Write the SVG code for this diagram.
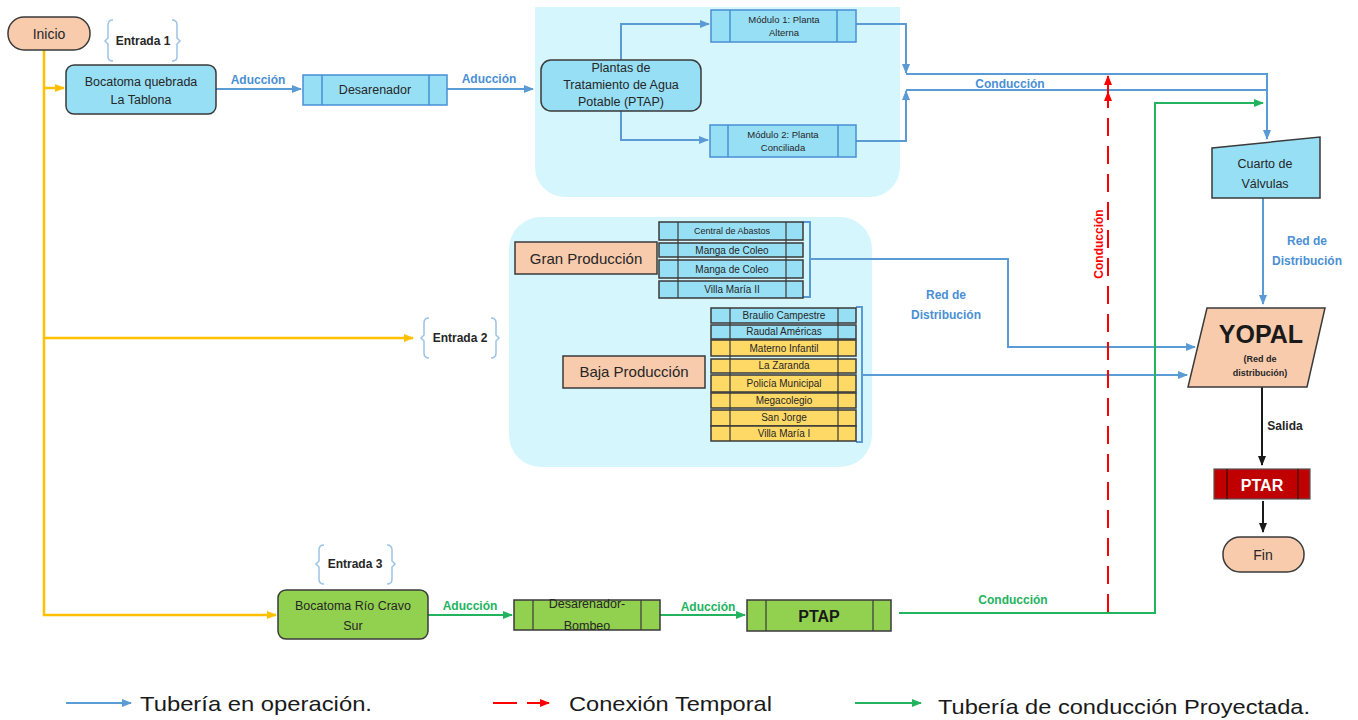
<svg xmlns="http://www.w3.org/2000/svg" width="1358" height="720" viewBox="0 0 1358 720">
<defs>
<style>
text{font-family:"Liberation Sans",Arial,sans-serif;fill:#262626}
.c{text-anchor:middle}
.b{font-weight:bold}
.lb{fill:#4a8fd4;font-weight:bold;font-size:12px}
.lg{fill:#22b35e;font-weight:bold;font-size:12px}
.blue{fill:none;stroke:#5b9bd5;stroke-width:2}
.yel{fill:none;stroke:#ffc000;stroke-width:2.5}
.grn{fill:none;stroke:#22b35e;stroke-width:2}
.red{fill:none;stroke:#ff0000;stroke-width:2;stroke-dasharray:18,10}
.blk{fill:none;stroke:#1a1a1a;stroke-width:2}
.brace{fill:none;stroke:#9dc3e6;stroke-width:1.5}
.lbx{fill:#97dff5;stroke:#4a8fd4;stroke-width:1.5}
.gbx{fill:#92d050;stroke:#3a3a3a;stroke-width:1.5}
.ybx{fill:#ffd966;stroke:#3a3a3a;stroke-width:1.5}
.bdk{fill:#97dff5;stroke:#3a3a3a;stroke-width:1.5}
.pch{fill:#f8cbad;stroke:#3a3a3a;stroke-width:1.5}
.panel{fill:#d6f6fd}
.leg{font-size:21px;fill:#1a1a1a}
</style>
<marker id="ab" markerWidth="10" markerHeight="10" refX="9" refY="5" orient="auto" markerUnits="userSpaceOnUse"><path d="M0,1 L10,5 L0,9 Z" fill="#5b9bd5"/></marker>
<marker id="ay" markerWidth="10" markerHeight="10" refX="9" refY="5" orient="auto" markerUnits="userSpaceOnUse"><path d="M0,1 L10,5 L0,9 Z" fill="#ffc000"/></marker>
<marker id="ag" markerWidth="10" markerHeight="10" refX="9" refY="5" orient="auto" markerUnits="userSpaceOnUse"><path d="M0,1 L10,5 L0,9 Z" fill="#22b35e"/></marker>
<marker id="ar" markerWidth="10" markerHeight="10" refX="9" refY="5" orient="auto" markerUnits="userSpaceOnUse"><path d="M0,1 L10,5 L0,9 Z" fill="#ff0000"/></marker>
<marker id="ak" markerWidth="10" markerHeight="10" refX="9" refY="5" orient="auto" markerUnits="userSpaceOnUse"><path d="M0,1 L10,5 L0,9 Z" fill="#1a1a1a"/></marker>
</defs>
<rect width="1358" height="720" fill="#ffffff"/>

<!-- panels -->
<path class="panel" d="M535,7 H900 V167 A30,30 0 0 1 870,197 H565 A30,30 0 0 1 535,167 Z"/>
<rect class="panel" x="509" y="217" width="363" height="250" rx="32"/>

<!-- connectors -->
<g id="connectors">
<path class="yel" d="M44,50 V615 H276" marker-end="url(#ay)"/>
<path class="yel" d="M44,88 H64" marker-end="url(#ay)"/>
<path class="yel" d="M44,338 H413" marker-end="url(#ay)"/>
<path class="blue" d="M216,89 H301" marker-end="url(#ab)"/>
<path class="blue" d="M447,89 H533" marker-end="url(#ab)"/>
<path class="blue" d="M621,60 V24 H709" marker-end="url(#ab)"/>
<path class="blue" d="M621,111 V140 H708" marker-end="url(#ab)"/>
<path class="blue" d="M856,24 H906 V73" marker-end="url(#ab)"/>
<path class="blue" d="M856,141 H906 V91" marker-end="url(#ab)"/>
<path class="blue" d="M906,74 H1267 V139" marker-end="url(#ab)"/>
<path class="blue" d="M906,90 H1267"/>
<path class="blue" d="M1263,198 V304" marker-end="url(#ab)"/>
<path class="blue" d="M803,222 H810 V297 H803 M810,259 H1008 V347 H1195" marker-end="url(#ab)"/>
<path class="blue" d="M856,307 H862 V442 H856 M862,375 H1187" marker-end="url(#ab)"/>
<path class="grn" d="M428,615 H512" marker-end="url(#ag)"/>
<path class="grn" d="M660,615 H745" marker-end="url(#ag)"/>
<path class="grn" d="M899,613 H1155 V103 H1263" marker-end="url(#ag)"/>
<path class="red" d="M1108,612 V92" marker-end="url(#ar)"/>
<path fill="none" stroke="#ff0000" stroke-width="2" d="M1108,92 V76" marker-end="url(#ar)"/>
<path class="blk" d="M1262,387 V465" marker-end="url(#ak)"/>
<path class="blk" d="M1263,501 V532" marker-end="url(#ak)"/>
<text class="lb" x="258" y="84" text-anchor="middle">Aducción</text>
<text class="lb" x="489" y="83" text-anchor="middle">Aducción</text>
<text class="lb" x="1010" y="88" text-anchor="middle">Conducción</text>
<text class="lb" x="1307" y="245" text-anchor="middle">Red de</text>
<text class="lb" x="1307" y="265" text-anchor="middle">Distribución</text>
<text class="lb" x="946" y="299" text-anchor="middle">Red de</text>
<text class="lb" x="946" y="319" text-anchor="middle">Distribución</text>
<text class="b" x="1103" y="244" text-anchor="middle" font-size="12" style="fill:#ff0000" transform="rotate(-90 1103 244)">Conducción</text>
<text class="lg" x="470" y="610" text-anchor="middle">Aducción</text>
<text class="lg" x="708" y="611" text-anchor="middle">Aducción</text>
<text class="lg" x="1013" y="604" text-anchor="middle">Conducción</text>
<text x="1285" y="430" text-anchor="middle" font-size="12" class="b">Salida</text>
</g>

<g id="inicio">
<rect class="pch" x="8" y="17" width="82" height="33" rx="16"/>
<text class="c" x="49" y="39" font-size="14">Inicio</text>
</g>
<g id="entrada1">
<path class="brace" d="M113,20 Q108,20 108,25 V38 L105,41 L108,44 V57 Q108,61 113,61 M172,20 Q177,20 177,25 V38 L180,41 L177,44 V57 Q177,61 172,61"/>
<text class="c b" x="143" y="45" font-size="12">Entrada 1</text>
</g>
<g id="bocatoma1">
<rect class="bdk" x="66" y="65" width="150" height="49" rx="8"/>
<text class="c" x="141" y="86" font-size="12.5">Bocatoma quebrada</text>
<text class="c" x="141" y="104" font-size="12.5">La Tablona</text>
</g>
<g id="desarenador">
<rect class="lbx" x="303" y="75" width="144" height="30"/>
<path stroke="#4a8fd4" stroke-width="1.5" d="M322,75 V105 M429,75 V105"/>
<text class="c" x="375" y="94" font-size="12.5">Desarenador</text>
</g>
<g id="ptap1">
<rect class="bdk" x="541" y="60" width="160" height="51" rx="10"/>
<text class="c" x="621" y="72" font-size="12.5">Plantas de</text>
<text class="c" x="621" y="89" font-size="12.5">Tratamiento de Agua</text>
<text class="c" x="621" y="106" font-size="12.5">Potable (PTAP)</text>
</g>
<g id="modulo1">
<rect class="lbx" x="711" y="10" width="145" height="32"/>
<path stroke="#4a8fd4" stroke-width="1.5" d="M730,10 V42 M837,10 V42"/>
<text class="c" x="784" y="23" font-size="9.5">Módulo 1: Planta</text>
<text class="c" x="784" y="36" font-size="9.5">Alterna</text>
</g>
<g id="modulo2">
<rect class="lbx" x="710" y="125" width="146" height="32"/>
<path stroke="#4a8fd4" stroke-width="1.5" d="M728,125 V157 M838,125 V157"/>
<text class="c" x="783" y="138" font-size="9.5">Módulo 2: Planta</text>
<text class="c" x="783" y="151" font-size="9.5">Conciliada</text>
</g>
<g id="cuarto">
<path class="bdk" d="M1212,148 L1320,137 V198 H1212 Z"/>
<text class="c" x="1265" y="168" font-size="12.5">Cuarto de</text>
<text class="c" x="1265" y="188" font-size="12.5">Válvulas</text>
</g>
<g id="gran">
<rect class="pch" x="515" y="242" width="142" height="32"/>
<text class="c" x="586" y="264" font-size="15">Gran Producción</text>
</g>
<g id="gran-list">
<rect class="bdk" x="659" y="222" width="144" height="18"/>
<rect class="bdk" x="659" y="243" width="144" height="14"/>
<rect class="bdk" x="659" y="260" width="144" height="18"/>
<rect class="bdk" x="659" y="281" width="144" height="17"/>
<path stroke="#3a3a3a" stroke-width="1.2" d="M678,222 V298 M786,222 V298"/>
<text class="c" x="732" y="234" font-size="9">Central de Abastos</text>
<text class="c" x="732" y="254" font-size="10">Manga de Coleo</text>
<text class="c" x="732" y="273" font-size="10">Manga de Coleo</text>
<text class="c" x="732" y="293" font-size="10">Villa María II</text>
</g>
<g id="baja">
<rect class="pch" x="563" y="356" width="142" height="32"/>
<text class="c" x="634" y="377" font-size="15">Baja Producción</text>
</g>
<g id="baja-list">
<rect class="bdk" x="711" y="308" width="145" height="15"/>
<rect class="bdk" x="711" y="325" width="145" height="14"/>
<rect class="ybx" x="711" y="340" width="145" height="16"/>
<rect class="ybx" x="711" y="359" width="145" height="14"/>
<rect class="ybx" x="711" y="375" width="145" height="17"/>
<rect class="ybx" x="711" y="393" width="145" height="15"/>
<rect class="ybx" x="711" y="410" width="145" height="16"/>
<rect class="ybx" x="711" y="426" width="145" height="15"/>
<path stroke="#3a3a3a" stroke-width="1.2" d="M730,308 V441 M838,308 V441"/>
<text class="c" x="784" y="319" font-size="10">Braulio Campestre</text>
<text class="c" x="784" y="335" font-size="10">Raudal Américas</text>
<text class="c" x="784" y="352" font-size="10">Materno Infantil</text>
<text class="c" x="784" y="369" font-size="10">La Zaranda</text>
<text class="c" x="784" y="387" font-size="10">Policía Municipal</text>
<text class="c" x="784" y="404" font-size="10">Megacolegio</text>
<text class="c" x="784" y="421" font-size="10">San Jorge</text>
<text class="c" x="784" y="437" font-size="10">Villa María I</text>
</g>
<g id="entrada2">
<path class="brace" d="M429,318 Q424,318 424,323 V335 L421,338 L424,341 V353 Q424,358 429,358 M491,318 Q496,318 496,323 V335 L499,338 L496,341 V353 Q496,358 491,358"/>
<text class="c b" x="460" y="342" font-size="12">Entrada 2</text>
</g>
<g id="yopal">
<path class="pch" d="M1207,308 H1325 L1307,387 H1188 Z"/>
<text class="c b" x="1261" y="343" font-size="25" style="fill:#1a1a1a">YOPAL</text>
<text class="c b" x="1260" y="362" font-size="9">(Red de</text>
<text class="c b" x="1260" y="376" font-size="9">distribución)</text>
</g>
<g id="ptar">
<rect x="1214" y="469" width="96" height="30" fill="#c00000" stroke="#555" stroke-width="1.2"/>
<path stroke="#3a0000" stroke-width="1.2" d="M1227,469 V499 M1298,469 V499"/>
<text class="c b" x="1262" y="491" font-size="16" style="fill:#ffffff">PTAR</text>
</g>
<g id="fin">
<rect class="pch" x="1223" y="537" width="81" height="35" rx="17"/>
<text class="c" x="1263" y="560" font-size="14">Fin</text>
</g>
<g id="entrada3">
<path class="brace" d="M324,545 Q319,545 319,550 V561 L316,564 L319,567 V579 Q319,584 324,584 M387,545 Q392,545 392,550 V561 L395,564 L392,567 V579 Q392,584 387,584"/>
<text class="c b" x="355" y="568" font-size="12">Entrada 3</text>
</g>
<g id="bocatoma3">
<rect class="gbx" x="278" y="590" width="150" height="49" rx="8"/>
<text class="c" x="353" y="610" font-size="12.5">Bocatoma Río Cravo</text>
<text class="c" x="353" y="630" font-size="12.5">Sur</text>
</g>
<g id="desarenador-bombeo">
<rect class="gbx" x="514" y="600" width="146" height="30"/>
<path stroke="#3a3a3a" stroke-width="1.2" d="M533,600 V630 M641,600 V630"/>
<text class="c" x="587" y="608" font-size="12.5">Desarenador-</text>
<text class="c" x="587" y="630" font-size="12.5">Bombeo</text>
</g>
<g id="ptap3">
<rect class="gbx" x="747" y="600" width="144" height="31"/>
<path stroke="#3a3a3a" stroke-width="1.2" d="M766,600 V631 M873,600 V631"/>
<text class="c b" x="819" y="622" font-size="16" style="fill:#1a1a1a">PTAP</text>
</g>

<g id="legend">
<path class="blue" d="M66,703 H131" marker-end="url(#ab)"/>
<text class="leg" x="140" y="711" textLength="232" lengthAdjust="spacingAndGlyphs">Tubería en operación.</text>
<path stroke="#ff0000" stroke-width="2" d="M493,703 H517"/>
<path stroke="#ff0000" stroke-width="2" d="M527,703 H549" marker-end="url(#ar)"/>
<text class="leg" x="569" y="711" textLength="203" lengthAdjust="spacingAndGlyphs">Conexión Temporal</text>
<path class="grn" d="M855,703 H921" marker-end="url(#ag)"/>
<text class="leg" x="938" y="714" textLength="372" lengthAdjust="spacingAndGlyphs">Tubería de conducción Proyectada.</text>
</g>
</svg>
